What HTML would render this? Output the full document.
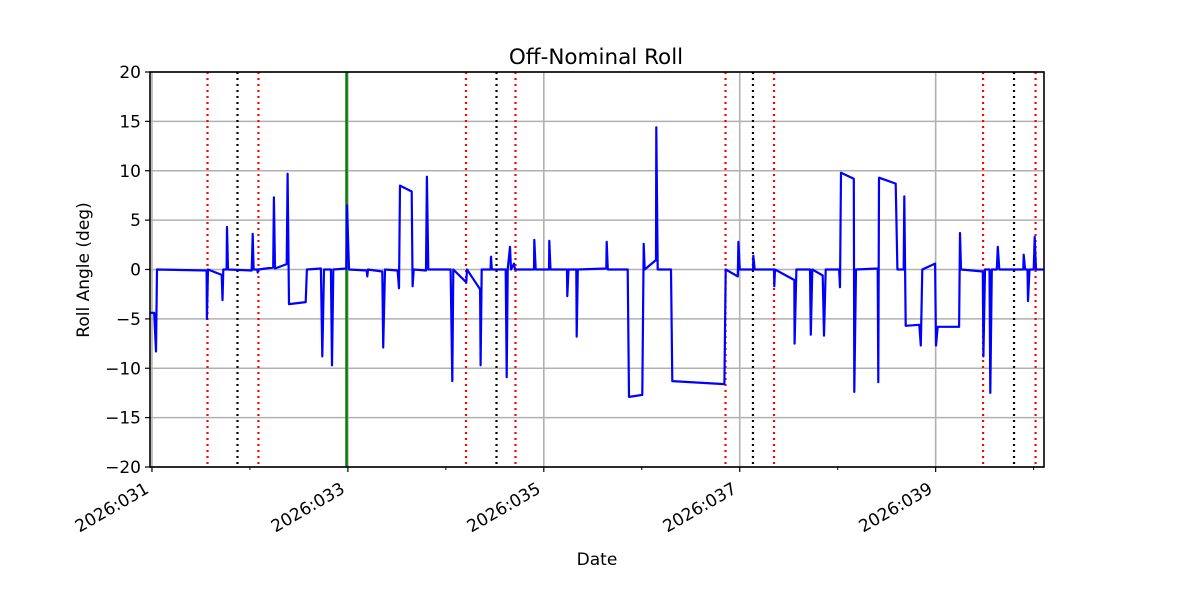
<!DOCTYPE html>
<html><head><meta charset="utf-8"><style>
body{margin:0;background:#fff}
svg{display:block;font-family:"DejaVu Sans","Liberation Sans",sans-serif}
</style></head><body>
<svg id="chart" width="1200" height="600" viewBox="0 0 1200 600" xmlns="http://www.w3.org/2000/svg">
<rect width="1200" height="600" fill="#fff"/>
<g id="grid"></g><g id="vlines"></g><g id="series"></g><g id="axes"></g>
<text x="596" y="64" font-size="21.5" text-anchor="middle">Off-Nominal Roll</text>
<text x="597" y="565" font-size="17" text-anchor="middle">Date</text>
<text transform="translate(89,270) rotate(-90)" font-size="17" text-anchor="middle">Roll Angle (deg)</text>
</svg>
<script>
const days=[30.980,31.023,31.041,31.051,31.558,31.561,31.572,31.712,31.720,31.728,31.762,31.766,31.776,32.018,32.028,32.038,32.074,32.079,32.087,32.238,32.245,32.256,32.375,32.385,32.399,32.569,32.582,32.725,32.739,32.756,32.827,32.838,32.851,32.984,32.991,33.011,33.192,33.198,33.205,33.351,33.361,33.379,33.508,33.522,33.532,33.651,33.661,33.672,33.797,33.807,33.821,34.049,34.066,34.076,34.209,34.216,34.350,34.355,34.366,34.456,34.461,34.469,34.611,34.621,34.631,34.655,34.665,34.696,34.706,34.900,34.903,34.917,35.053,35.056,35.068,35.237,35.240,35.252,35.332,35.336,35.347,35.638,35.642,35.653,35.856,35.870,36.005,36.020,36.030,36.145,36.148,36.163,36.298,36.312,36.843,36.857,36.980,36.986,37.001,37.136,37.139,37.153,37.350,37.353,37.360,37.557,37.560,37.578,37.717,37.725,37.741,37.847,37.860,37.878,38.014,38.024,38.034,38.164,38.170,38.187,38.408,38.415,38.422,38.592,38.609,38.674,38.680,38.694,38.833,38.848,38.864,38.994,39.004,39.021,39.239,39.249,39.259,39.481,39.487,39.504,39.550,39.558,39.573,39.624,39.634,39.650,39.895,39.899,39.913,39.938,39.943,39.958,40.001,40.011,40.024,40.106];
const roll=[-4.4,-4.4,-8.3,0,-0.1,-5.0,0,-0.55,-3.1,0,0,4.3,0,-0.1,3.6,0,0,-0.3,0,0.2,7.3,0.1,0.55,9.7,-3.5,-3.3,0,0.1,-8.8,0,0,-9.7,0,0.1,6.5,0,-0.1,-0.7,0,-0.2,-7.9,0,-0.1,-1.9,8.5,7.9,-1.7,0,-0.1,9.4,0,0,-11.3,0,-1.3,0,-2.0,-9.7,0,0,1.3,0,0,-10.9,0,2.3,0,0.6,0,0,3.0,0,0,2.9,0,0,-2.7,0,0,-6.8,0,0.1,2.8,0,0,-12.9,-12.7,2.6,0,0.96,14.4,0,0,-11.3,-11.6,0,-0.7,2.8,0,0,1.4,0,0,-1.7,0,-1.06,-7.5,0,0,-6.6,0,-0.6,-6.7,0,0,-1.8,9.8,9.2,-12.4,0,0.1,-11.4,9.3,8.7,0,0,7.4,-5.7,-5.6,-7.7,0,0.6,-7.7,-5.8,-5.8,3.7,0,-0.2,-8.8,0,0,-12.5,0,0,2.3,0,0,1.5,0,0,-3.2,0,0,3.3,0,0];
const redLines=[31.567,32.087,34.206,34.711,36.855,37.350,39.484,40.020];
const blackLines=[31.873,34.517,37.135,39.800];
const greenLines=[32.986];
const yTicks=[-20,-15,-10,-5,0,5,10,15,20];
const xMajor=[31,33,35,37,39];
const xLabels=["2026:031","2026:033","2026:035","2026:037","2026:039"];
const xMinor=[32,34,36,38,40];

const L=150,R=1044,T=72,B=467,D0=30.98,D1=40.106;
const X=d=>L+(d-D0)/(D1-D0)*(R-L);
const Y=v=>B-(v+20)/40*(B-T);
const NS="http://www.w3.org/2000/svg";
function mk(p,tag,a){const e=document.createElementNS(NS,tag);for(const k in a)e.setAttribute(k,a[k]);p.appendChild(e);return e;}
const grid=document.getElementById('grid'),vl=document.getElementById('vlines'),ser=document.getElementById('series'),ax=document.getElementById('axes');
yTicks.forEach(v=>{
 const g=mk(grid,'line',{x1:L,x2:R,y1:Y(v),y2:Y(v),stroke:'#b0b0b0','stroke-width':1.6});
 
 
 mk(ax,'line',{x1:L-5,x2:L,y1:Y(v),y2:Y(v),stroke:'#000','stroke-width':1.2});
 const t=mk(ax,'text',{x:L-9,y:Y(v)+6,'font-size':17,'text-anchor':'end'});
 t.textContent=v<0?'\u2212'+(-v):String(v);
 
 
});
xMajor.forEach((d,i)=>{
 const g=mk(grid,'line',{x1:X(d),x2:X(d),y1:T,y2:B,stroke:'#b0b0b0','stroke-width':1.6});
 
 
 mk(ax,'line',{x1:X(d),x2:X(d),y1:B,y2:B+5,stroke:'#000','stroke-width':1.2});
 const t=mk(ax,'text',{x:0,y:0,'font-size':17,'text-anchor':'end',transform:`translate(${X(d)-2},${B+25}) rotate(-30)`});
 t.textContent=xLabels[i];
 
 
});
xMinor.forEach(d=>{if(X(d)<=R)mk(ax,'line',{x1:X(d),x2:X(d),y1:B,y2:B+3,stroke:'#000','stroke-width':1});});
function vline(d,col,dash,name){
 const e=mk(vl,'line',{x1:X(d),x2:X(d),y1:T,y2:B,stroke:col,'stroke-width':dash?2.2:2.5,'stroke-dasharray':dash?'2,4':'none'});
 
 
}
redLines.forEach(d=>vline(d,'#ff0000',true,'red-event-line'));
blackLines.forEach(d=>vline(d,'#000',true,'black-event-line'));
greenLines.forEach(d=>vline(d,'#008000',false,'green-event-line'));
const pl=mk(ser,'polyline',{points:days.map((d,i)=>X(d).toFixed(1)+','+Y(roll[i]).toFixed(1)).join(' '),fill:'none',stroke:'#0000ff','stroke-width':2.2,'stroke-linejoin':'round'});


const fr=mk(ax,'rect',{x:L,y:T,width:R-L,height:B-T,fill:'none',stroke:'#000','stroke-width':1.6});


</script>
</body></html>
